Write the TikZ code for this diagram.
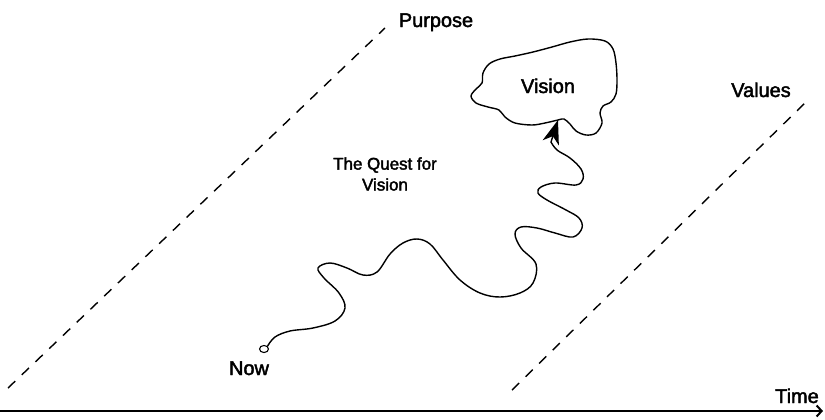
\documentclass[tikz,border=0pt]{standalone}
\usepackage{fontspec}
\setmainfont{Liberation Sans}
\newfontfamily\lblfont{Liberation Sans}[FakeBold=2.2]
\usetikzlibrary{arrows.meta,shapes.geometric}
\begin{document}
\begin{tikzpicture}[x=1bp,y=-1bp,
  lbl/.style={font=\lblfont\fontsize{20}{22}\selectfont, anchor=base, inner sep=0pt},
  qlbl/.style={font=\lblfont\fontsize{17}{21}\selectfont, align=center, inner sep=0pt},
  guide/.style={line width=1.4bp, dash pattern=on 10bp off 9bp},
  wiggle/.style={line width=1.4bp},
  tip/.style={-{Stealth[length=24pt,width=17pt,inset=7pt]}},
  axis/.style={line width=2bp, -{Straight Barb[length=5bp,width=11bp,line width=2bp]}}]
\useasboundingbox (0,0) rectangle (825,419);
% dashed guides
\coordinate (p1) at (8,388);
\coordinate (p2) at (385,28);
\coordinate (v1) at (512,390);
\coordinate (v2) at (810,98);
\draw[guide] (p1) -- (p2);
\draw[guide] (v1) -- (v2);
% time axis
\coordinate (t1) at (0,411);
\coordinate (t2) at (823,411);
\draw[axis] (t1) -- (t2);
% labels
\node[lbl] (purpose) at (436,27) {Purpose};
\node[lbl] (values) at (761,97) {Values};
\node[lbl] (now) at (249,375) {Now};
\node[lbl] (time) at (797,403) {Time};
\node[qlbl] (quest) at (385,174) {The Quest for\\Vision};
% cloud
\draw[wiggle] plot[smooth cycle, tension=0.55] coordinates {
  (558,120) (545,123) (532,125) (515,123) (505,117) (499,110) (488,107)
  (476,103) (471,96) (476,89) (482,83) (483,73) (489,64) (500,59)
  (515,56) (533,52) (552,47) (570,42) (588,39) (605,41) (613,49)
  (616,63) (617,80) (616,94) (611,102) (603,106) (600,113) (602,123)
  (596,133) (586,135) (576,131) (570,124) (564,119)};
\node[lbl] (vision) at (548,93) {Vision};
% start circle
\node[draw, ellipse, line width=1.1bp, minimum width=9bp, minimum height=7bp, inner sep=0pt] (start) at (264,349) {};
\coordinate (goal) at (558,120);
% quest path
\draw[wiggle, tip] plot[smooth, tension=0.6] coordinates {
  (start.north east) (275,337) (290,331) (313,328) (335,321) (345,308)
  (339,293) (324,278) (318,268) (330,263) (347,268) (363,275) (377,272)
  (390,254) (403,243) (417,239) (430,244) (443,260) (460,280) (480,293)
  (500,297) (520,293) (533,283) (536,264) (521,248) (515,234) (521,227)
  (537,228) (555,233) (573,237) (582,228) (579,218) (566,210) (547,200)
  (538,193) (541,187) (555,183) (576,185) (583,179) (581,169) (570,158)
  (557,150) (551,142)} -- (goal);
\end{tikzpicture}
\end{document}
